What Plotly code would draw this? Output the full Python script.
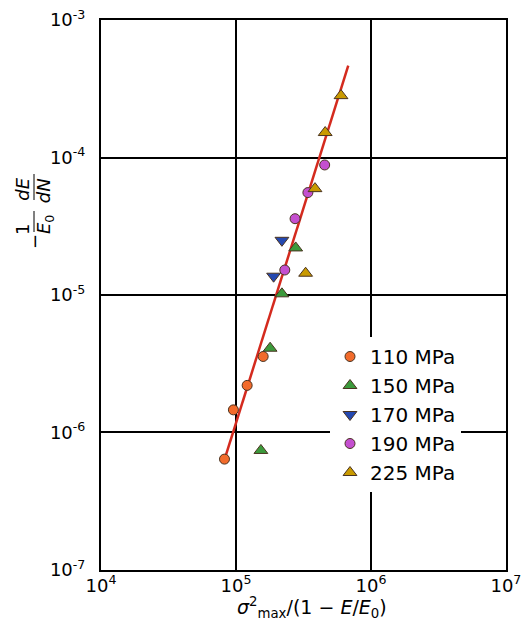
import plotly.graph_objects as go

# ---- data ----
x_110 = [8.22e4, 9.57e4, 1.21e5, 1.59e5]
y_110 = [6.4e-7, 1.46e-6, 2.2e-6, 3.57e-6]

x_150 = [1.53e5, 1.79e5, 2.19e5, 2.77e5]
y_150 = [7.4e-7, 4.1e-6, 1.02e-5, 2.2e-5]

x_170 = [1.90e5, 2.19e5]
y_170 = [1.37e-5, 2.5e-5]

x_190 = [2.30e5, 2.74e5, 3.41e5, 4.54e5]
y_190 = [1.52e-5, 3.59e-5, 5.56e-5, 8.83e-5]

x_225 = [3.28e5, 3.85e5, 4.58e5, 6.0e5]
y_225 = [1.44e-5, 5.94e-5, 1.52e-4, 2.82e-4]

fit_x = [8.2e4, 6.79e5]
fit_y = [6.3e-7, 4.67e-4]

x_tickvals = [1e4, 1e5, 1e6, 1e7]
x_ticktext = ["10<sup>4</sup>", "10<sup>5</sup>", "10<sup>6</sup>", "10<sup>7</sup>"]
y_tickvals = [1e-7, 1e-6, 1e-5, 1e-4, 1e-3]
y_ticktext = ["10<sup>-7</sup>", "10<sup>-6</sup>", "10<sup>-5</sup>", "10<sup>-4</sup>", "10<sup>-3</sup>"]

series = [
    ("110 MPa", x_110, y_110, "circle", "#f26b2b", 10),
    ("150 MPa", x_150, y_150, "triangle-up", "#3c9a3c", 12),
    ("170 MPa", x_170, y_170, "triangle-down", "#2448b0", 12),
    ("190 MPa", x_190, y_190, "circle", "#c44fd0", 10),
    ("225 MPa", x_225, y_225, "triangle-up", "#c99a00", 12),
]

FONT = "DejaVu Sans"

fig = go.Figure()
fig.add_trace(go.Scatter(x=fit_x, y=fit_y, mode="lines",
                         line=dict(color="#d42a1e", width=2.5),
                         showlegend=False, hoverinfo="skip"))
for name, xs, ys, sym, col, sz in series:
    fig.add_trace(go.Scatter(x=xs, y=ys, mode="markers", name=name,
                             marker=dict(symbol=sym, color=col, size=sz,
                                         line=dict(color="#4a3320", width=1))))

# page offset of the figure div (body margin)
OX, OY = 8, 8
# plot area pixel geometry in page coordinates
L, R, T, B = 101, 506, 20, 570
W, H = R - L, B - T
def px(x):
    return (x - L) / W
def py(y):
    return (B - y) / H

fig.update_layout(
    width=530 - OX, height=626 - OY,
    margin=dict(l=L - OX, r=530 - R, t=T - OY, b=626 - B, autoexpand=False),
    paper_bgcolor="white", plot_bgcolor="white",
    font=dict(family=FONT, color="black"),
    showlegend=True,
    legend=dict(x=px(330), y=py(337), xanchor="left", yanchor="top",
                bgcolor="white", borderwidth=0,
                font=dict(family=FONT, size=20, color="black")),
)
fig.update_xaxes(type="log", range=[4, 7.0005],
                 tickvals=x_tickvals, ticktext=x_ticktext,
                 tickfont=dict(family=FONT, size=18),
                 ticks="", showgrid=True, gridcolor="black", gridwidth=1.6,
                 showline=True, linecolor="black", linewidth=2, mirror=True,
                 zeroline=False, ticklabelstandoff=-2, ticklabeloverflow="allow")
fig.update_yaxes(type="log", range=[-7.0005, -2.9995],
                 tickvals=y_tickvals, ticktext=y_ticktext,
                 tickfont=dict(family=FONT, size=18),
                 ticks="", showgrid=True, gridcolor="black", gridwidth=1.6,
                 showline=True, linecolor="black", linewidth=2, mirror=True,
                 zeroline=False, ticklabelstandoff=10, ticklabeloverflow="allow")

# x-axis title
fig.add_annotation(xref="paper", yref="paper", x=px(312), y=py(607),
                   text="<i>σ</i><sup>2</sup><sub>max</sub>/(1 − <i>E</i>/<i>E</i><sub>0</sub>)",
                   showarrow=False, font=dict(family=FONT, size=19),
                   xanchor="center", yanchor="middle")

# y-axis title as rotated fraction
yt_font = dict(family=FONT, size=18)
fig.add_annotation(xref="paper", yref="paper", x=px(23), y=py(206),
                   text="1    <i>dE</i>", textangle=-90, showarrow=False,
                   font=yt_font, xanchor="center", yanchor="middle")
fig.add_annotation(xref="paper", yref="paper", x=px(45), y=py(206),
                   text="<i>E</i><sub>0</sub>  <i>dN</i>", textangle=-90, showarrow=False,
                   font=yt_font, xanchor="center", yanchor="middle")
fig.add_annotation(xref="paper", yref="paper", x=px(34), y=py(242),
                   text="−", textangle=-90, showarrow=False,
                   font=yt_font, xanchor="center", yanchor="middle")
for y0, y1 in [(211, 232), (174, 200)]:
    fig.add_shape(type="line", xref="paper", yref="paper",
                  x0=px(34), x1=px(34), y0=py(y0), y1=py(y1),
                  line=dict(color="black", width=1))

fig.write_html("out.html")
